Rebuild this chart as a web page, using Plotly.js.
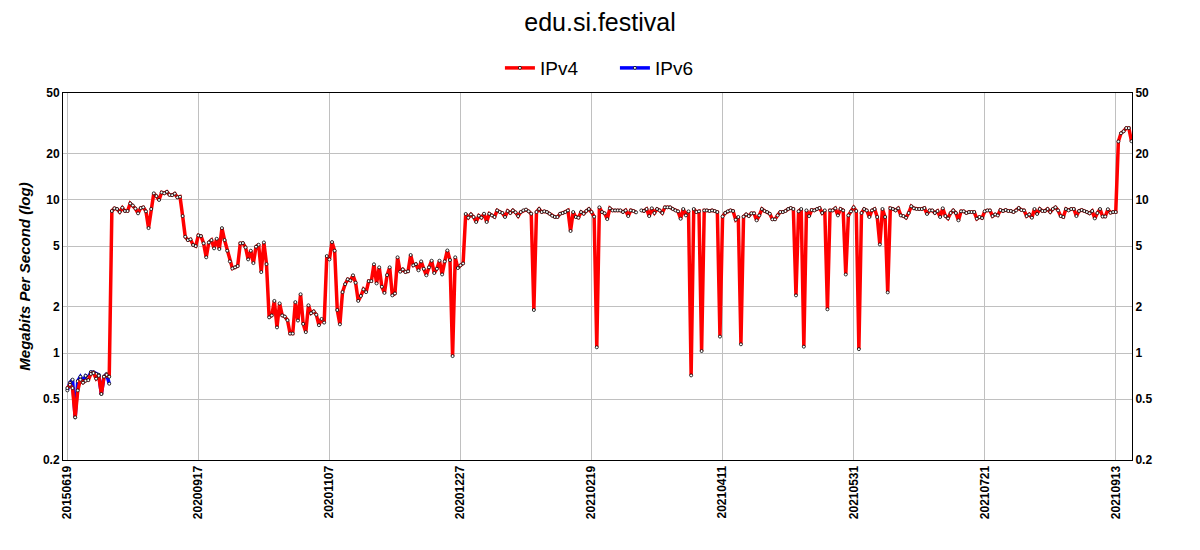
<!DOCTYPE html>
<html>
<head>
<meta charset="utf-8">
<script src="https://cdn.plot.ly/plotly-3.0.1.min.js"></script>
<style>html,body{margin:0;padding:0;background:#fff;}#chart{width:1200px;height:550px;}</style>
</head>
<body>
<div id="chart"></div>
<script>
const chartTitle = 'edu.si.festival';
const tickLabels = ['20150619','20200917','20201107','20201227','20210219','20210411','20210531','20210721','20210913'];
const tickStep = 50;
const yTicks = [0.2, 0.5, 1, 2, 5, 10, 20, 50];

const ipv4 = [
 0.59,0.62,0.59,0.38,0.57,0.67,0.64,0.66,0.665,0.73,0.74,0.68,0.71,0.54,0.70,0.72,0.70,
 8.47,8.82,8.73,8.34,8.9,8.47,8.47,9.5,9.2,8.78,8.18,8.86,8.95,8.43,6.55,8.73,11.05,10.6,10.0,11.2,11.05,11.3,10.8,10.75,11.0,10.4,10.5,7.85,5.75,5.47,5.53,5.08,5.0,5.87,
 5.81,5.21,4.22,5.28,5.47,4.83,5.58,4.78,6.55,5.47,4.66,3.97,3.57,3.63,3.70,5.21,5.23,4.90,4.09,4.66,3.87,4.95,5.10,3.38,5.28,3.81,1.71,1.76,2.19,1.47,2.11,1.76,1.73,1.64,1.34,1.34,2.15,1.63,2.42,1.55,1.37,2.05,1.82,1.87,1.78,1.52,1.67,1.58,4.30,4.09,5.31,
 4.66,1.91,1.54,2.50,2.82,3.03,2.98,3.22,2.88,2.19,2.36,2.61,2.50,2.95,2.95,3.80,2.85,3.63,2.71,2.47,3.23,3.63,2.38,2.45,4.22,3.40,3.52,3.38,3.42,4.37,3.74,3.81,3.47,3.97,3.55,3.22,3.63,4.01,3.33,3.55,4.01,3.26,3.97,4.68,4.05,0.955,4.22,3.59,3.74,3.85,8.1,
 7.66,8.05,7.74,7.18,7.89,7.66,8.13,7.18,8.13,7.93,7.74,8.55,8.34,8.22,7.74,8.47,8.22,8.55,8.3,7.85,8.34,8.55,8.65,8.43,8.13,1.91,8.34,8.73,8.34,8.43,8.34,8.13,7.89,7.74,7.74,8.13,8.22,8.34,8.55,6.27,8.34,7.74,7.66,8.34,8.13,8.47,8.73,8.34,
 7.78,1.09,8.95,8.34,8.18,7.5,8.82,8.55,8.55,8.55,8.55,8.34,8.55,7.85,8.55,8.47,8.3,null,8.55,8.47,8.73,7.85,8.82,8.22,8.73,8.55,8.22,8.95,8.95,8.95,8.73,8.55,8.43,7.54,8.73,7.93,8.43,0.714,8.73,8.34,8.43,1.03,8.55,8.55,8.47,8.55,8.47,8.34,1.28,7.8,8.22,8.43,
 8.55,8.47,7.43,7.74,1.14,7.78,8.05,7.85,8.18,8.18,7.36,7.93,8.73,8.47,8.34,8.13,7.47,7.47,7.93,8.34,8.34,8.47,8.73,8.86,8.73,2.38,8.43,8.73,1.10,8.55,7.85,8.6,8.55,8.73,8.86,8.22,8.55,1.93,8.55,8.55,8.82,7.93,8.73,8.55,3.26,7.93,8.43,8.95,8.47,1.06,
 8.22,8.73,8.55,7.74,8.55,8.73,7.74,5.12,8.73,7.74,2.49,8.82,8.73,8.55,8.82,7.93,7.85,7.66,8.22,9.1,8.82,8.73,8.73,8.73,8.86,8.1,8.55,8.55,8.22,8.47,7.74,8.82,7.85,7.58,8.22,8.55,8.22,7.36,8.43,8.43,8.22,8.34,8.34,8.34,7.54,7.74,7.62,8.43,8.55,8.55,
 7.85,8.05,7.93,8.6,8.47,8.6,8.47,8.47,8.34,8.55,8.86,8.6,8.55,7.85,8.05,7.66,8.73,8.1,8.73,8.47,8.47,8.73,8.34,8.73,8.95,8.55,7.85,7.74,8.73,8.55,8.73,8.73,7.85,8.47,8.6,8.47,8.34,8.18,8.47,7.58,8.22,8.73,7.8,7.8,8.7,8.26,8.34,8.34,24.1,27.3,28.1,29.5,29.5,24.2
];

const ipv6 = [0.57,0.64,0.67,0.38,0.655,0.70,0.655,0.71,0.69,0.75,0.75,0.73,0.72,0.54,0.70,0.73,0.63];

const xAll = ipv4.map((_, i) => i);
const x6 = ipv6.map((_, i) => i);
const tickVals = tickLabels.map((_, i) => i * tickStep);

const markerStyle = {size: 3, color: '#ffffff', line: {color: '#000000', width: 0.8}};

const traces = [
  {x: xAll, y: ipv4, yaxis: 'y2', mode: 'lines', line: {color: 'rgba(0,0,0,0)', width: 0},
   showlegend: false, hoverinfo: 'skip'},
  {x: x6, y: ipv6, name: 'IPv6', mode: 'lines+markers', legendrank: 2,
   line: {color: '#0000ff', width: 3.5}, marker: markerStyle},
  {x: xAll, y: ipv4, name: 'IPv4', mode: 'lines+markers', connectgaps: false, legendrank: 1,
   line: {color: '#ff0000', width: 3.5}, marker: markerStyle}
];

const yRange = [Math.log10(0.2), Math.log10(50)];
const tickFont = {family: 'Liberation Sans, Arial, sans-serif', size: 12, color: '#000', weight: 'bold'};

const layout = {
  width: 1200, height: 550,
  paper_bgcolor: '#fff', plot_bgcolor: '#fff',
  margin: {l: 63, r: 68, t: 93, b: 90},
  font: {family: 'Liberation Sans, Arial, sans-serif', color: '#000'},
  title: {text: chartTitle, font: {size: 25, color: '#000'}, x: 0.5, xanchor: 'center', y: 0.96, yanchor: 'middle'},
  showlegend: true,
  legend: {orientation: 'h', x: 0.5163, xanchor: 'center', y: 1.068, yanchor: 'middle',
           font: {size: 19, color: '#000'}, entrywidth: 70, entrywidthmode: 'pixels'},
  xaxis: {
    range: [-1.64, 406.2], tickvals: tickVals, ticktext: tickLabels, tickangle: -90,
    tickfont: tickFont, showgrid: true, gridcolor: '#c0c0c0', gridwidth: 1,
    showline: true, linecolor: '#000', linewidth: 1, mirror: true, ticks: '', zeroline: false
  },
  yaxis: {
    type: 'log', range: yRange, tickvals: yTicks, ticktext: yTicks.map(String),
    tickfont: tickFont, showgrid: true, gridcolor: '#c0c0c0', gridwidth: 1,
    showline: true, linecolor: '#000', linewidth: 1, mirror: true, ticks: '', zeroline: false,
    title: {text: 'Megabits Per Second (log)', font: {size: 15, style: 'italic', weight: 'bold', color: '#000'}, standoff: 8}
  },
  yaxis2: {
    type: 'log', range: yRange, tickvals: yTicks, ticktext: yTicks.map(String),
    overlaying: 'y', side: 'right', tickfont: tickFont, showgrid: false,
    showline: true, linecolor: '#000', linewidth: 1, ticks: '', zeroline: false
  }
};

Plotly.newPlot('chart', traces, layout, {displayModeBar: false, staticPlot: true});
</script>
</body>
</html>
